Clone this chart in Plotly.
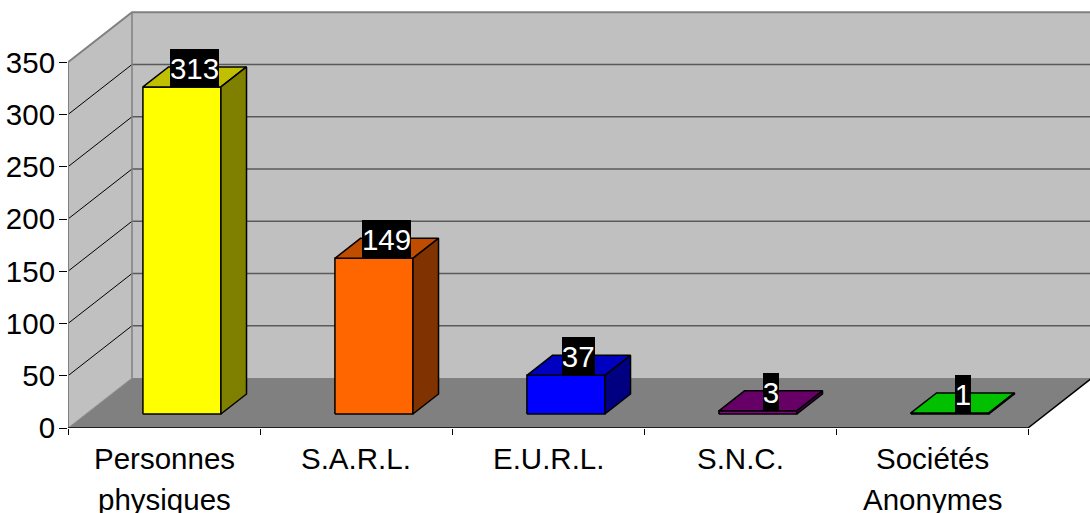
import plotly.graph_objects as go

# ---------------- data ----------------
categories = ["Personnes<br>physiques", "S.A.R.L.", "E.U.R.L.", "S.N.C.", "Sociétés<br>Anonymes"]
values = [313, 149, 37, 3, 1]
y_ticks = [0, 50, 100, 150, 200, 250, 300, 350]

# ---------------- styles ----------------
front_colors = ["#FFFF00", "#FF6600", "#0000FF", "#880088", "#00FF00"]
top_colors = ["#C0C000", "#C04C00", "#0000C0", "#660066", "#00C000"]
side_colors = ["#808000", "#803300", "#000080", "#440044", "#008000"]

W, H = 1090, 513
ML, MR, MT, MB = 68, 0, 10, 85
plot_w = W - ML - MR
plot_h = H - MT - MB
n = len(categories)
X0, X1 = -0.5, n - 0.5
PX_PER_X = 192.0
Y_TOP = 400.0
PX_PER_Y = plot_h / Y_TOP
DX = 64 / PX_PER_X          # depth offset of the box in x units
DY = 50 / PX_PER_Y          # depth offset of the box in y units
YMAX = y_ticks[-1]
BAR_W = 78 / PX_PER_X
F0, BF = 0.28, 0.40         # bar depth start / depth size (fractions)

FONT = "Arial, Liberation Sans, sans-serif"
FS = 29.5

fig = go.Figure()


def poly(xs, ys, fill, line_color=None, line_width=0):
    fig.add_trace(go.Scatter(
        x=xs + [xs[0]], y=ys + [ys[0]], mode="lines", fill="toself",
        fillcolor=fill,
        line=dict(color=line_color or fill, width=line_width),
        hoverinfo="skip", showlegend=False))


def line(xs, ys, color, width):
    fig.add_trace(go.Scatter(x=xs, y=ys, mode="lines",
                             line=dict(color=color, width=width),
                             hoverinfo="skip", showlegend=False))


# walls and floor
poly([X0, X0, X0 + DX, X0 + DX], [0, YMAX, YMAX + DY, DY], "#C0C0C0")
poly([X0 + DX, X1 + DX, X1 + DX, X0 + DX], [DY, DY, YMAX + DY, YMAX + DY], "#C0C0C0")
poly([X0, X1, X1 + DX, X0 + DX], [0, 0, DY, DY], "#808080")

# gridlines on back wall
gx, gy = [], []
for v in y_ticks[1:-1]:
    gx += [X0 + DX, X1 + DX, None]
    gy += [v + DY, v + DY, None]
line(gx, gy, "#5a5a5a", 1.5)

# gridlines on left wall
lx, ly = [], []
for v in y_ticks[1:-1]:
    lx += [X0, X0 + DX, None]
    ly += [v, v + DY, None]
line(lx, ly, "#000000", 1)

# wall outlines
line([X0, X0, X0 + DX, X1 + DX], [0, YMAX, YMAX + DY, YMAX + DY], "#808080", 2)
line([X0 + DX, X0 + DX], [DY, YMAX + DY], "#808080", 1.5)
line([X0, X0 + DX], [0, DY], "#909090", 1)
# front floor edge (x axis line) and right floor edge
line([X0, X1, X1 + DX], [0, 0, DY], "#000000", 1.5)

# bars
for i, v in enumerate(values):
    x0 = i - BAR_W / 2 + F0 * DX
    x1 = i + BAR_W / 2 + F0 * DX
    y0 = F0 * DY
    bdx, bdy = BF * DX, BF * DY
    poly([x0, x1, x1, x0], [y0, y0, y0 + v, y0 + v], front_colors[i], "#000000", 1.5)
    poly([x0, x1, x1 + bdx, x0 + bdx], [y0 + v, y0 + v, y0 + v + bdy, y0 + v + bdy],
         top_colors[i], "#000000", 1.5)
    poly([x1, x1 + bdx, x1 + bdx, x1], [y0, y0 + bdy, y0 + v + bdy, y0 + v],
         side_colors[i], "#000000", 1.5)
    txt = str(v)
    fig.add_annotation(
        x=i + (F0 + BF / 2) * DX, y=y0 + v, xref="x", yref="y",
        text=txt, showarrow=False, xanchor="center", yanchor="bottom",
        bgcolor="#000000", borderwidth=0, borderpad=0,
        width=16.5 * len(txt) - 0.5, height=38,
        font=dict(family=FONT, size=FS, color="#FFFFFF"))

# category labels (one annotation per text line, for Excel-like line spacing)
for i, cat in enumerate(categories):
    for j, part in enumerate(cat.split("<br>")):
        fig.add_annotation(
            x=i, y=0, xref="x", yref="y", text=part, showarrow=False,
            xanchor="center", yanchor="top", yshift=-14 - 41 * j,
            borderpad=0, borderwidth=0,
            font=dict(family=FONT, size=FS, color="#000000"))

# secondary trace on overlay axis for the category tick marks
fig.add_trace(go.Scatter(x=[X0, X1], y=[0, 0], xaxis="x2", mode="lines",
                         line=dict(width=0), hoverinfo="skip", showlegend=False))

xr = [X0, X0 + plot_w / PX_PER_X]
fig.update_layout(
    width=W, height=H,
    margin=dict(l=ML, r=MR, t=MT, b=MB, autoexpand=False),
    paper_bgcolor="#FFFFFF", plot_bgcolor="#FFFFFF",
    showlegend=False,
    xaxis=dict(range=xr, tickmode="array", tickvals=list(range(n)),
               showticklabels=False,
               ticks="", showgrid=False, zeroline=False, showline=False,
               automargin=False, fixedrange=True),
    xaxis2=dict(range=xr, overlaying="x", anchor="y", side="bottom",
                tickmode="array", tickvals=[X0 + k for k in range(n + 1)],
                ticks="outside", ticklen=6, tickcolor="#000000", tickwidth=1,
                showticklabels=False, showgrid=False, zeroline=False, showline=False,
                automargin=False),
    yaxis=dict(range=[0, Y_TOP], tickmode="array", tickvals=y_ticks,
               ticktext=[str(t) for t in y_ticks],
               ticks="outside", ticklen=8, tickcolor="#000000", tickwidth=1,
               showgrid=False, zeroline=False, showline=False,
               tickfont=dict(family=FONT, size=FS, color="#000000"),
               ticklabelstandoff=-2, automargin=False, fixedrange=True),
)

fig.write_html(
    "out.html",
    config={"displayModeBar": False},
    post_script="document.body.style.margin='0';document.body.style.overflow='hidden';",
)
